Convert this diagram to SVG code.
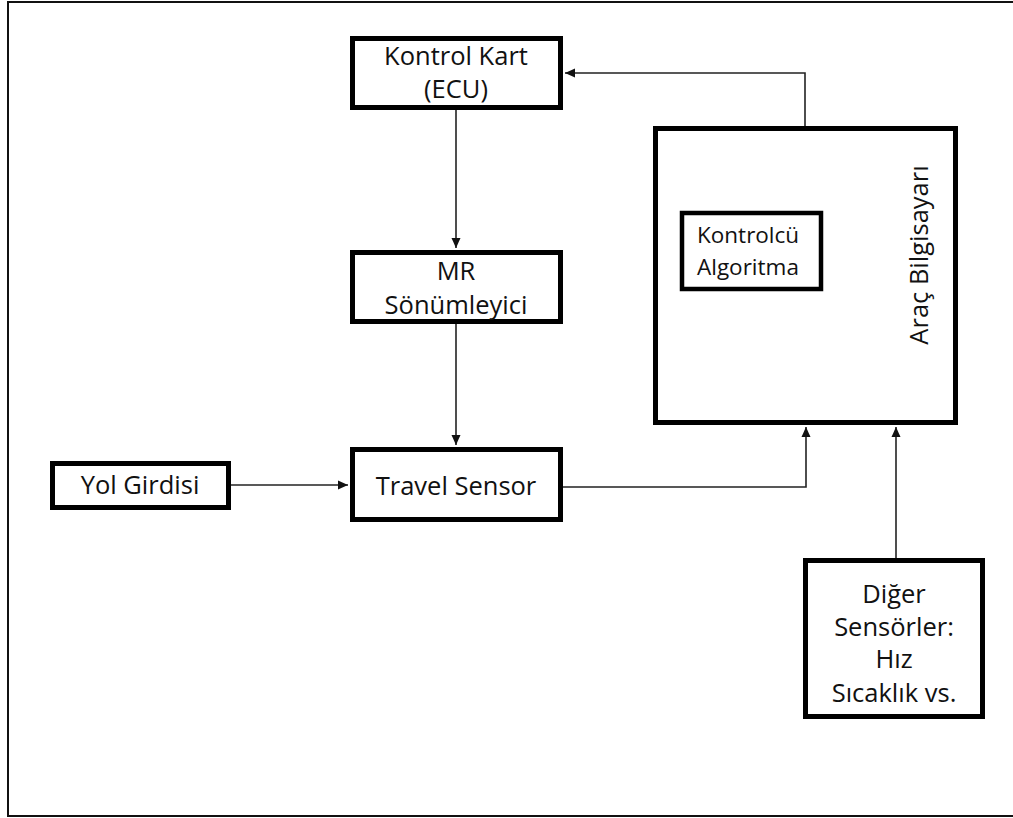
<svg xmlns="http://www.w3.org/2000/svg" width="1013" height="818" viewBox="0 0 1013 818">
<style>
.box{fill:#fff;stroke:#000;stroke-width:5}
.inner{fill:#fff;stroke:#000;stroke-width:4.5}
.lbl{font-family:"Open Sans","Liberation Sans",sans-serif;font-size:25.5px;fill:#111;text-anchor:middle}
.small{font-family:"Open Sans","Liberation Sans",sans-serif;font-size:22.5px;fill:#111}
.conn{fill:none;stroke:#222;stroke-width:1.6}
</style>
<defs>
<marker id="arr" markerUnits="userSpaceOnUse" markerWidth="10" markerHeight="10" viewBox="0 0 10 10" refX="10" refY="5" orient="auto">
<path d="M0,0.5 L10,5 L0,9.5 Z" fill="#111"/>
</marker>
</defs>
<rect x="8" y="2" width="1015" height="814" fill="#fff" stroke="#111" stroke-width="2"/>
<g id="connectors">
<path class="conn" d="M456,110 V248" marker-end="url(#arr)"/>
<path class="conn" d="M456,324 V445" marker-end="url(#arr)"/>
<path class="conn" d="M231,485 H348" marker-end="url(#arr)"/>
<path class="conn" d="M563,487 H806 V427" marker-end="url(#arr)"/>
<path class="conn" d="M805,126 V73 H565" marker-end="url(#arr)"/>
<path class="conn" d="M896,558 V427" marker-end="url(#arr)"/>
</g>
<g id="kontrol-kart">
<rect class="box" x="352.5" y="38.5" width="208" height="69"/>
<text class="lbl" x="456" y="65">Kontrol Kart</text>
<text class="lbl" x="456" y="98">(ECU)</text>
</g>
<g id="mr-sonumleyici">
<rect class="box" x="352.5" y="252.5" width="208" height="69"/>
<text class="lbl" x="456" y="280">MR</text>
<text class="lbl" x="456" y="314">Sönümleyici</text>
</g>
<g id="travel-sensor">
<rect class="box" x="352.5" y="449.5" width="208" height="70"/>
<text class="lbl" x="456" y="495">Travel Sensor</text>
</g>
<g id="yol-girdisi">
<rect class="box" x="52.5" y="463.5" width="176" height="44"/>
<text class="lbl" x="140" y="494">Yol Girdisi</text>
</g>
<g id="arac-bilgisayari">
<rect class="box" x="655.5" y="128.5" width="300" height="294"/>
<text class="lbl" transform="translate(928,255) rotate(-90)" x="0" y="0">Araç Bilgisayarı</text>
</g>
<g id="kontrolcu-algoritma">
<rect class="inner" x="682" y="213" width="139" height="76"/>
<text class="small" x="697" y="243">Kontrolcü</text>
<text class="small" x="697" y="275">Algoritma</text>
</g>
<g id="diger-sensorler">
<rect class="box" x="805.5" y="560.5" width="177" height="156"/>
<text class="lbl" x="894" y="603">Diğer</text>
<text class="lbl" x="894" y="636">Sensörler:</text>
<text class="lbl" x="894" y="668">Hız</text>
<text class="lbl" x="894" y="702">Sıcaklık vs.</text>
</g>
</svg>
